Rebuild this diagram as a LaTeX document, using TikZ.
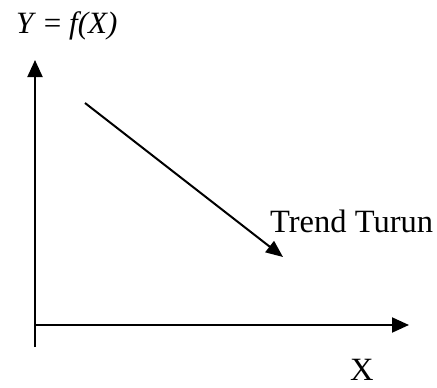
\documentclass[tikz,border=0pt]{standalone}
\usepackage{fontspec}
\setmainfont{Liberation Serif}
\usetikzlibrary{arrows.meta}
\begin{document}
\begin{tikzpicture}[x=1pt,y=-1pt,
  axis/.style={line width=2pt,-{Triangle[length=17pt,width=15pt]}},
  trend/.style={line width=2pt,-{Triangle[length=17pt,width=14pt]}},
  lbl/.style={inner sep=0pt,anchor=base west,font=\fontsize{31}{36}\selectfont},
  big/.style={lbl,font=\fontsize{32.5}{38}\selectfont}]
\useasboundingbox (0,0) rectangle (437,388);
\coordinate (ybot) at (35,347);
\coordinate (ytop) at (35,60);
\coordinate (xleft) at (35,325);
\coordinate (xright) at (409,325);
\coordinate (ts) at (85,103);
\coordinate (te) at (283,257);
\draw[axis] (ybot) -- (ytop);
\draw[axis] (xleft) -- (xright);
\draw[trend] (ts) -- (te);
\node[lbl] (fx) at (16,33) {\textit{Y} = \textit{f(X)}};
\node[big] (tt) at (270,232) {Trend Turun};
\node[big] (xl) at (350,380) {X};
\end{tikzpicture}
\end{document}
